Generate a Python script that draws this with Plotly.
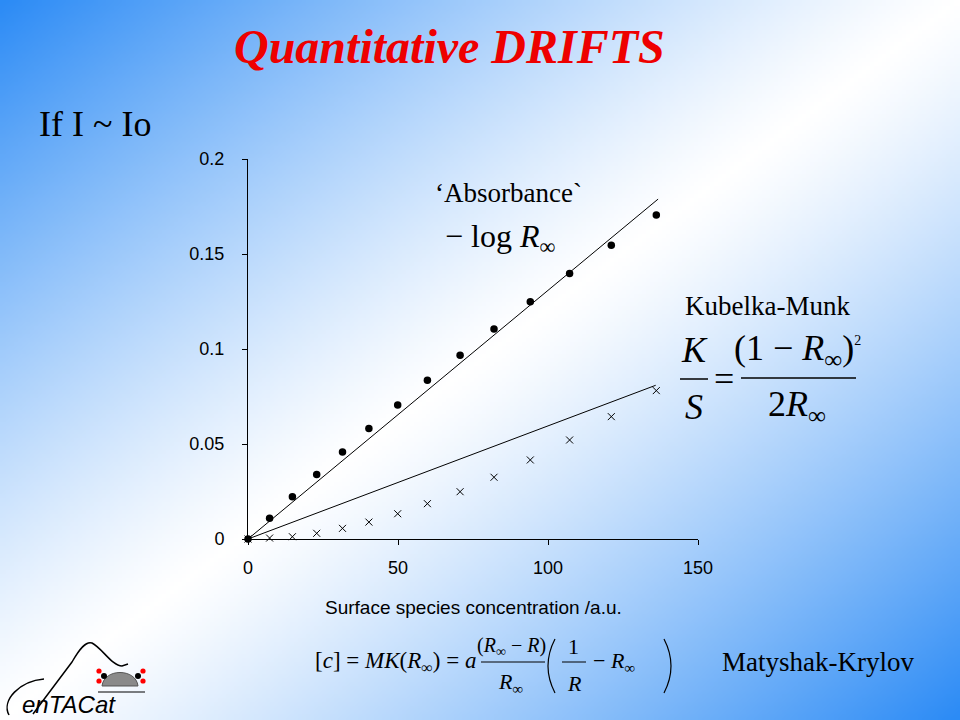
import zlib, struct, base64
import plotly.graph_objects as go

# ---------------- data ----------------
conc = [0, 7.2, 14.8, 22.9, 31.5, 40.3, 49.9, 59.8, 70.7, 82.0, 94.1, 107.2, 121.1, 136.1]
absorbance = [0, 0.0109, 0.0223, 0.0339, 0.0458, 0.0581, 0.0705, 0.0835, 0.0967,
              0.1105, 0.1249, 0.1397, 0.1546, 0.1705]
kubelka_munk = [0, 0.0005, 0.0012, 0.0030, 0.0056, 0.0089, 0.0133, 0.0186, 0.0249,
                0.0325, 0.0416, 0.0521, 0.0644, 0.0781]
abs_fit_x = [0, 136.7]
abs_fit_y = [0, 0.1789]
km_fit_x = [0, 135.9]
km_fit_y = [0, 0.0809]
x_ticks = [0, 50, 100, 150]
y_ticks = [0, 0.05, 0.1, 0.15, 0.2]
y_tick_labels = ["0", "0.05", "0.1", "0.15", "0.2"]

# ---------------- geometry helpers ----------------
W, H = 960, 720
L, T, PW, PH = 248, 159, 450, 380


def px(x):
    return (x - L) / PW


def py(y):
    return (T + PH - y) / PH


# ---------------- gradient background (PNG data URI) ----------------
def make_png(w, h):
    blue = (42, 138, 245)
    raw = bytearray()
    for j in range(h):
        raw.append(0)
        for i in range(w):
            s = (i + 0.5) / w + (j + 0.5) / h
            t = min(1.0, abs(s - 1.0))
            f = t ** 1.2
            raw += bytes([int(round(255 + (c - 255) * f)) for c in blue])

    def chunk(tag, data):
        c = struct.pack(">I", len(data)) + tag + data
        return c + struct.pack(">I", zlib.crc32(tag + data) & 0xffffffff)

    png = b"\x89PNG\r\n\x1a\n"
    png += chunk(b"IHDR", struct.pack(">IIBBBBB", w, h, 8, 2, 0, 0, 0))
    png += chunk(b"IDAT", zlib.compress(bytes(raw), 9))
    png += chunk(b"IEND", b"")
    return "data:image/png;base64," + base64.b64encode(png).decode()


bg = make_png(240, 180)

SERIF = "Liberation Serif, Times New Roman, serif"
SANS = "Liberation Sans, Arial, sans-serif"

fig = go.Figure()

fig.add_trace(go.Scatter(x=abs_fit_x, y=abs_fit_y, mode="lines",
                         line=dict(color="black", width=1), hoverinfo="skip",
                         cliponaxis=False))
fig.add_trace(go.Scatter(x=km_fit_x, y=km_fit_y, mode="lines",
                         line=dict(color="black", width=1), hoverinfo="skip",
                         cliponaxis=False))
fig.add_trace(go.Scatter(x=conc, y=absorbance, mode="markers",
                         marker=dict(symbol="circle", size=7.5, color="black"),
                         cliponaxis=False, name="-log R"))
fig.add_trace(go.Scatter(x=conc, y=kubelka_munk, mode="markers",
                         marker=dict(symbol="x-thin-open", size=7, color="black",
                                     line=dict(color="black", width=1)),
                         cliponaxis=False, name="K/S"))

ann = []


def txt(x, y, text, size, family=SERIF, color="black", xanchor="center"):
    ann.append(dict(x=px(x), y=py(y), xref="paper", yref="paper", text=text,
                    showarrow=False, xanchor=xanchor, yanchor="middle",
                    font=dict(size=size, family=family, color=color)))


shapes = []


def bar(x0, x1, y, w=1.5):
    shapes.append(dict(type="line", xref="paper", yref="paper",
                       x0=px(x0), x1=px(x1), y0=py(y), y1=py(y),
                       line=dict(color="black", width=w)))


def path(points_cmds):
    out = []
    for cmd, pts in points_cmds:
        coords = " ".join(f"{px(x):.5f},{py(y):.5f}" for x, y in pts)
        out.append(f"{cmd} {coords}")
    return " ".join(out)


# title and headings
txt(449, 47, "<b><i>Quantitative DRIFTS</i></b>", 48, color="#EE0000")
txt(37, 124, "If I ~ Io", 36, xanchor="left")

# x-axis title
txt(473, 607, "Surface species concentration /a.u.", 19, family=SANS)

# absorbance label
txt(508, 193, "\u2018Absorbance`", 27)
txt(500, 238, "\u2212 log <i>R</i><sub>\u221e</sub>", 32)

# Kubelka-Munk
txt(767, 306, "Kubelka-Munk", 27)
txt(694, 350, "<i>K</i>", 36)
bar(680, 708, 379)
txt(694, 407, "<i>S</i>", 36)
txt(724, 379, "=", 36)
txt(797, 350, "(1 \u2212 <i>R</i><sub>\u221e</sub>)<sup><span style='font-size:14px'>2</span></sup>", 36)
bar(741, 856, 378)
txt(797, 406, "2<i>R</i><sub>\u221e</sub>", 36)

# Matyshak-Krylov formula
txt(478, 662, "[<i>c</i>] = <i>MK</i>(<i>R</i><sub>\u221e</sub>) = <i>a</i>", 23, xanchor="right")
txt(511, 646, "(<i>R</i><sub>\u221e</sub> \u2212 <i>R</i>)", 20)
bar(481, 545, 662, 1)
txt(510, 683, "<i>R</i><sub>\u221e</sub>", 22)
shapes.append(dict(type="path", xref="paper", yref="paper",
                   path=path([("M", [(555, 639)]), ("Q", [(541, 666), (555, 693)])]),
                   line=dict(color="black", width=1.2)))
txt(573, 646, "1", 22)
bar(562, 586, 662, 1)
txt(574, 683, "<i>R</i>", 22)
txt(614, 662, "\u2212 <i>R</i><sub>\u221e</sub>", 22)
shapes.append(dict(type="path", xref="paper", yref="paper",
                   path=path([("M", [(664, 639)]), ("Q", [(678, 666), (664, 693)])]),
                   line=dict(color="black", width=1.2)))
txt(818, 662, "Matyshak-Krylov", 27)

# logo text
txt(20, 704, "<i>enTACat</i>", 24, family=SANS, xanchor="left")

# logo: C arc
shapes.append(dict(type="path", xref="paper", yref="paper",
                   path=path([("M", [(44, 679)]), ("C", [(20, 681), (1, 700), (9, 715)])]),
                   line=dict(color="black", width=1.5)))
# logo: bell curve line
shapes.append(dict(type="path", xref="paper", yref="paper",
                   path=path([("M", [(33, 714)]), ("L", [(72, 662)]),
                              ("C", [(80, 648), (86, 641), (92, 643)]),
                              ("C", [(102, 648), (112, 666), (122, 666)]),
                              ("L", [(128, 664)])]),
                   line=dict(color="black", width=1.5)))
# logo: molecule dome
shapes.append(dict(type="path", xref="paper", yref="paper",
                   path=path([("M", [(102, 686)]), ("C", [(104, 668), (136, 668), (138, 686)]), ("Z", [])]),
                   fillcolor="#8a8a8a", line=dict(color="#555", width=1)))
shapes.append(dict(type="line", xref="paper", yref="paper",
                   x0=px(98), x1=px(145), y0=py(692), y1=py(692),
                   line=dict(color="black", width=1)))
for (cx, cy, r, col) in [(99, 671, 2.6, "red"), (99, 681, 2.6, "red"),
                         (143, 671, 2.6, "red"), (143, 681, 2.6, "red"),
                         (104, 676, 3, "black"), (138, 676, 3, "black")]:
    shapes.append(dict(type="circle", xref="paper", yref="paper",
                       x0=px(cx - r), x1=px(cx + r), y0=py(cy + r), y1=py(cy - r),
                       fillcolor=col, line=dict(width=0)))

fig.update_layout(
    width=W, height=H,
    margin=dict(l=L, r=W - L - PW, t=T, b=H - T - PH, pad=0),
    paper_bgcolor="white",
    plot_bgcolor="rgba(0,0,0,0)",
    showlegend=False,
    annotations=ann,
    shapes=shapes,
    images=[dict(source=bg, xref="paper", yref="paper",
                 x=px(0), y=py(0), sizex=W / PW, sizey=H / PH,
                 xanchor="left", yanchor="top", sizing="stretch", layer="below")],
    xaxis=dict(range=[0, 150], tickvals=x_ticks, ticktext=[str(v) for v in x_ticks],
               showgrid=False, zeroline=False, showline=True, linecolor="black",
               linewidth=1, ticks="outside", ticklen=5, tickcolor="black",
               ticklabelstandoff=7,
               tickfont=dict(family=SANS, size=18, color="black")),
    yaxis=dict(range=[0, 0.2], tickvals=y_ticks, ticktext=y_tick_labels,
               showgrid=False, zeroline=False, showline=True, linecolor="black",
               linewidth=1, ticks="outside", ticklen=5, tickcolor="black",
               ticklabelstandoff=14,
               tickfont=dict(family=SANS, size=18, color="black")),
)

fig.write_html("out.html", config={"displayModeBar": False},
               post_script="document.body.style.margin='0px';document.body.style.overflow='hidden';")
